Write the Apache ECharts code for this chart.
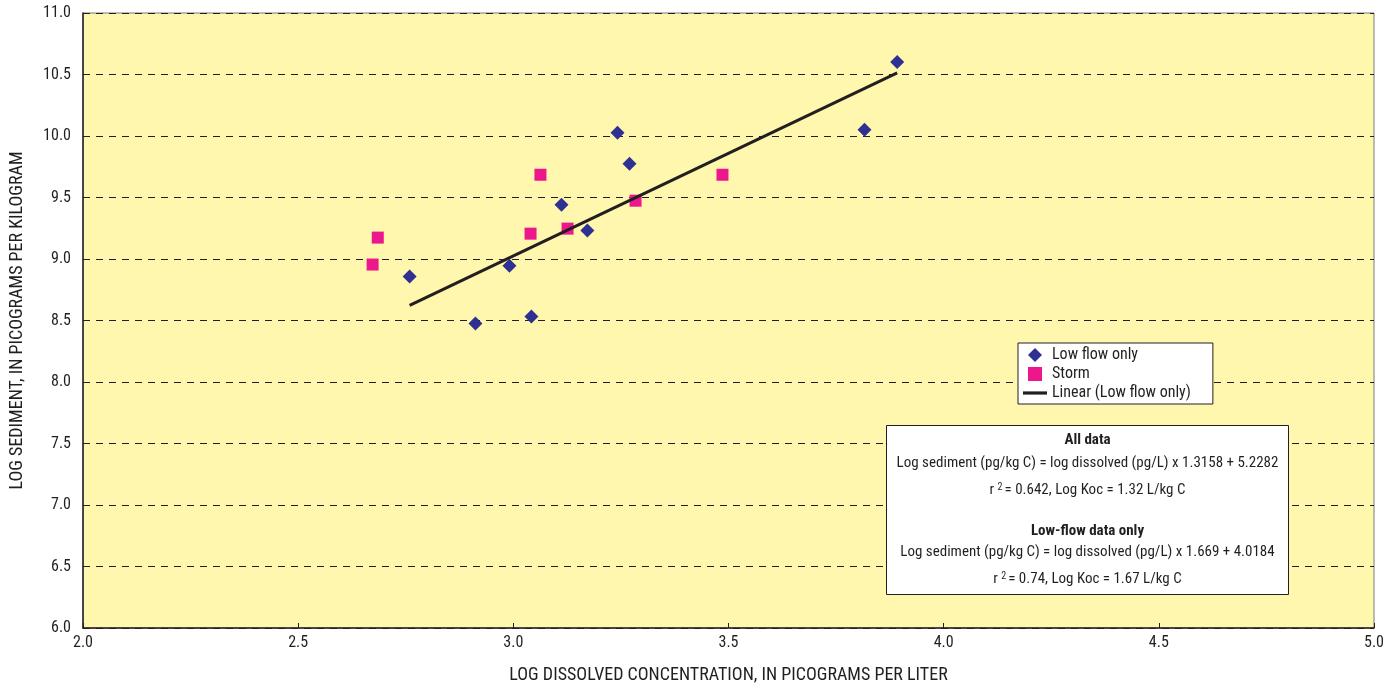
<!DOCTYPE html>
<html>
<head>
<meta charset="utf-8">
<script src="https://cdn.jsdelivr.net/npm/echarts@6/dist/echarts.min.js"></script>
<style>
  html, body { margin: 0; padding: 0; background: #fff; }
  #chart { width: 1398px; height: 689px; }
</style>
</head>
<body>
<div id="chart"></div>
<script>
// values
var lowFlowX = [2.759, 2.912, 2.991, 3.042, 3.112, 3.172, 3.242, 3.270, 3.816, 3.892]
var lowFlowY = [8.857, 8.476, 8.946, 8.532, 9.442, 9.231, 10.026, 9.774, 10.050, 10.602]
var stormX = [2.673, 2.685, 3.040, 3.063, 3.126, 3.284, 3.486]
var stormY = [8.955, 9.174, 9.206, 9.685, 9.247, 9.474, 9.685]
// ends of the fitted line (low flow only)
var trendX = [2.759, 3.892]
var trendY = [8.623, 10.514]

var FONT = '"Liberation Sans Narrow", "Roboto Condensed", "Roboto", sans-serif'
var INK = '#231F20'

function pairs (xs, ys) {
  return xs.map(function (x, i) { return [x, ys[i]] })
}

function boxLine (text, y, bold) {
  return {
    type: 'text',
    x: 201,
    y: y,
    z: 100,
    style: {
      text: text,
      align: 'center',
      verticalAlign: 'middle',
      fontSize: 15,
      fontWeight: bold ? 'bold' : 'normal',
      fill: INK,
      fontFamily: FONT,
      rich: { sup: { fontSize: 10, padding: [0, 2, 7, 0], fill: INK, fontFamily: FONT } }
    }
  }
}

var chart = echarts.init(document.getElementById('chart'))
var option = {
  animation: false,
  textStyle: { fontFamily: FONT },
  grid: {
    left: 82,
    top: 13,
    right: 24,
    bottom: 56,
    show: true,
    backgroundColor: '#FFF7AE',
    borderColor: '#7a7a7a',
    borderWidth: 1
  },
  xAxis: {
    type: 'value',
    min: 2,
    max: 5,
    interval: 0.5,
    name: 'LOG DISSOLVED CONCENTRATION, IN PICOGRAMS PER LITER',
    nameLocation: 'middle',
    nameGap: 38,
    nameTextStyle: { fontSize: 18, color: INK, fontFamily: FONT },
    axisLine: { show: true, onZero: false, lineStyle: { color: INK, width: 1.5 } },
    axisTick: { show: true, inside: true, length: 5, lineStyle: { color: INK } },
    axisLabel: {
      fontSize: 16, color: INK, margin: 7,
      formatter: function (v) { return v.toFixed(1) }
    },
    splitLine: { show: false }
  },
  yAxis: {
    type: 'value',
    min: 6,
    max: 11,
    interval: 0.5,
    name: 'LOG SEDIMENT, IN PICOGRAMS PER KILOGRAM',
    nameLocation: 'middle',
    nameGap: 57,
    nameTextStyle: { fontSize: 18, color: INK, fontFamily: FONT },
    axisLine: { show: true, onZero: false, lineStyle: { color: INK, width: 1.5 } },
    axisTick: { show: false },
    axisLabel: {
      fontSize: 16, color: INK, margin: 12,
      formatter: function (v) { return v.toFixed(1) }
    },
    splitLine: { show: true, lineStyle: { color: INK, type: [7, 6], width: 1 } }
  },
  legend: {
    orient: 'vertical',
    left: 1018,
    top: 343,
    padding: [4, 22, 3, 5],
    itemGap: 3,
    itemWidth: 24,
    itemHeight: 14,
    backgroundColor: '#fff',
    borderColor: INK,
    borderWidth: 1,
    borderRadius: 0,
    textStyle: { fontSize: 16, color: INK, fontFamily: FONT },
    data: [
      { name: 'Low flow only', icon: 'path://M5,0 L10,5 L5,10 L0,5 Z' },
      { name: 'Storm', icon: 'path://M0,0 L10,0 L10,10 L0,10 Z' },
      { name: 'Linear (Low flow only)', icon: 'path://M0,0 L24,0 L24,3.2 L0,3.2 Z' }
    ]
  },
  graphic: [{
    type: 'group',
    left: 886,
    top: 425,
    z: 100,
    children: [{
      type: 'rect',
      z: 99,
      shape: { x: 0, y: 0, width: 402, height: 169 },
      style: { fill: '#fff', stroke: INK, lineWidth: 1 }
    },
    boxLine('All data', 15, true),
    boxLine('Log sediment (pg/kg C) = log dissolved (pg/L) x 1.3158 + 5.2282', 38),
    boxLine('r {sup|2}= 0.642, Log Koc = 1.32 L/kg C', 65),
    boxLine('Low-flow data only', 106, true),
    boxLine('Log sediment (pg/kg C) = log dissolved (pg/L) x 1.669 + 4.0184', 127),
    boxLine('r {sup|2}= 0.74, Log Koc = 1.67 L/kg C', 154)
    ]
  }],
  series: [{
    name: 'Linear (Low flow only)',
    type: 'line',
    data: pairs(trendX, trendY),
    symbol: 'none',
    lineStyle: { color: INK, width: 3 },
    itemStyle: { color: INK },
    z: 3
  }, {
    name: 'Low flow only',
    type: 'scatter',
    data: pairs(lowFlowX, lowFlowY),
    symbol: 'diamond',
    symbolSize: 14,
    itemStyle: { color: '#2E3192', opacity: 1 },
    z: 4
  }, {
    name: 'Storm',
    type: 'scatter',
    data: pairs(stormX, stormY),
    symbol: 'rect',
    symbolSize: 12,
    itemStyle: { color: '#EC178C', opacity: 1 },
    z: 2
  }]
}
chart.setOption(option)
</script>
</body>
</html>
